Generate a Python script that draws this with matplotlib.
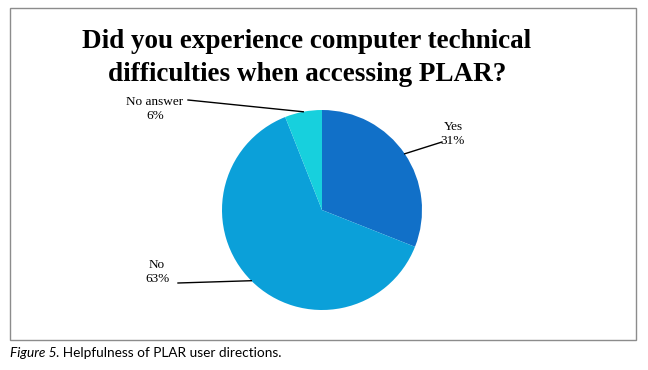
import numpy as np
import matplotlib
matplotlib.use("Agg")
import matplotlib.pyplot as plt
from matplotlib.patches import Rectangle

categories = ["Yes", "No", "No answer"]
values = [31, 63, 6]
colors = ["#1170c8", "#0ba0d9", "#17d0dd"]
title = "Did you experience computer technical\ndifficulties when accessing PLAR?"
caption_italic = "Figure 5"
caption_rest = ". Helpfulness of PLAR user directions."

W, H = 648, 370
fig = plt.figure(figsize=(W / 100, H / 100), dpi=100)
fig.patch.set_facecolor("white")

cx, cy = 322, 210
ax = fig.add_axes([0, 0, 1, 1])

wedges, _ = ax.pie(values, colors=colors, startangle=90, counterclock=False,
                   radius=1.0, center=(0, 0), wedgeprops=dict(linewidth=0))
ax.set_xlim(-cx / 100, (W - cx) / 100)
ax.set_ylim(-(H - cy) / 100, cy / 100)
ax.set_aspect("equal")
ax.axis("off")

# border of chart area
fig.patches.append(Rectangle((10 / W, 1 - 340 / H), 626 / W, 332 / H,
                             transform=fig.transFigure, fill=False,
                             edgecolor="#8c8c8c", linewidth=1.0))

fig.text(307 / W, 1 - 58 / H, title, ha="center", va="center",
         family="Liberation Serif", weight="bold", fontsize=19.5,
         linespacing=1.45)

# labels with leader lines
label_pos = {"Yes": (1.31, 0.76), "No": (-1.65, -0.62), "No answer": (-1.67, 1.01)}
line_end = {"Yes": (1.20, 0.68), "No": (-1.44, -0.73), "No answer": (-1.34, 1.10)}
for w, cat, v in zip(wedges, categories, values):
    ang = np.deg2rad((w.theta1 + w.theta2) / 2)
    px, py = np.cos(ang), np.sin(ang)
    tx, ty = label_pos[cat]
    ex, ey = line_end[cat]
    ax.plot([px, ex], [py, ey], color="black", lw=1.0)
    ax.text(tx, ty, f"{cat}\n{v}%", ha="center", va="center",
            family="Liberation Serif", fontsize=9.5, linespacing=1.2)

t1 = fig.text(10 / W, 1 - 353 / H, caption_italic, ha="left", va="center",
              family="Lato", style="italic", fontsize=9.8)
fig.canvas.draw()
bb = t1.get_window_extent()
fig.text(bb.x1 / W, 1 - 353 / H, caption_rest, ha="left", va="center",
         family="Lato", fontsize=9.8)

fig.savefig("out.png", dpi=100)
